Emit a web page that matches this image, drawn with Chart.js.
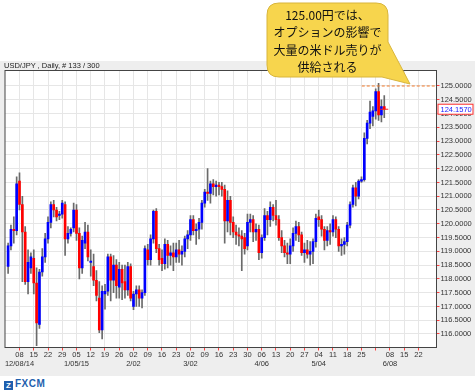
<!DOCTYPE html>
<html>
<head>
<meta charset="utf-8">
<script src="https://cdn.jsdelivr.net/npm/chart.js@4.4.0/dist/chart.umd.min.js"></script>
<style>
html,body{margin:0;padding:0;background:#fff;}
#wrap{position:relative;width:475px;height:390px;overflow:hidden;font-family:"Liberation Sans",Arial,sans-serif;}
#band{position:absolute;left:0;top:61px;width:475px;height:315px;background:#eeeeee;}
#chartBox{position:absolute;left:0;top:61px;width:475px;height:315px;}
#head{position:absolute;left:4px;top:61px;font-size:7.5px;line-height:9px;color:#222;}
#bubble{position:absolute;left:0;top:0;}
#logo{position:absolute;left:4px;top:378px;font-size:10px;line-height:11px;font-weight:bold;color:#1f5fae;letter-spacing:0.5px;}
#logo span{display:inline-block;width:9px;height:9px;line-height:9px;margin-right:2px;background:#1f5fae;color:#fff;font-size:8px;text-align:center;letter-spacing:0;vertical-align:-1px;}
</style>
</head>
<body>
<div id="wrap">
  <div id="band"></div>
  <div id="chartBox"><canvas id="myChart" width="475" height="315"></canvas></div>
  <div id="head">USD/JPY , Daily, # 133 / 300</div>
  <svg id="bubble" width="475" height="100">
    <path d="M279,3 H376 Q388,3 388,15 V42 L410,84 L382,77 H279 Q267,77 267,65 V15 Q267,3 279,3 Z" fill="#f7d54d" stroke="#d8b53c" stroke-width="1"/>
    <g font-family="'Noto Sans CJK JP'" font-size="12" fill="#111" text-anchor="middle">
      <text x="327.5" y="20">125.00円では、</text>
      <text x="327.5" y="37">オプションの影響で</text>
      <text x="327.5" y="54.5">大量の米ドル売りが</text>
      <text x="327.5" y="71.5">供給される</text>
    </g>
  </svg>
  <div id="logo"><span>Z</span>FXCM</div>
</div>
<script>
// daily candles 12/02/14 .. 6/04/15, one per weekday
var opens = [118.45,119.20,119.80,119.75, 121.55,120.70,119.70,117.90,118.40, 118.75,117.85,116.35,118.25,118.80,
  119.45,120.05,120.70,120.50,120.30, 120.35,120.70,119.45,119.65,119.85, 120.50,119.65,118.40,119.30,119.70,
  118.60,118.45,117.95,117.30,116.15, 117.45,117.55,118.80,117.95,118.50, 117.70,118.35,117.90,117.60,118.45,
  117.00,117.45,117.60,117.30,117.50, 119.05,118.70,119.45,120.45,119.10, 118.75,118.55,119.25,118.85,118.95,
  118.80,119.05,118.90,119.00,119.45, 119.60,120.15,119.75,119.80,120.05, 120.75,121.15,121.10,121.45,121.35,
  121.40,121.35,121.25,120.10,120.85, 120.05,119.70,119.60,119.55,119.50, 119.20,120.05,120.15,119.70,119.80,
  118.95,119.50,120.30,120.15,120.60, 120.30,120.15,119.50,119.20,118.95, 118.90,119.20,119.65,119.90,119.60,
  118.95,119.05,118.90,119.00,119.35, 120.25,120.15,119.80,119.40,119.75, 119.70,120.15,119.80,119.20,119.25,
  119.35,119.95,120.70,121.30,121.00, 121.55,121.60,123.10,123.65,123.90, 124.10,124.80,123.95,124.25];
var highs = [119.30,119.95,120.25,121.70, 121.85,121.00,119.90,119.05,118.95, 119.05,118.40,118.35,119.10,119.65,
  120.25,120.80,120.85,120.60,120.45, 120.85,120.80,119.90,119.85,120.75, 120.70,119.85,119.55,120.05,119.95,
  119.05,118.90,118.30,117.90,117.75, 117.80,118.90,118.90,118.85,118.70, 118.60,118.50,118.50,118.60,118.55,
  117.55,117.75,117.75,117.60,119.20, 119.25,119.60,120.50,120.55,119.25, 119.05,119.45,119.40,119.20,119.30,
  119.30,119.40,119.20,119.55,119.75, 120.30,120.30,120.00,120.20,120.85, 121.25,122.00,121.55,121.60,121.55,
  121.50,121.50,121.40,121.20,121.00, 120.25,119.95,119.85,119.75,119.65, 120.35,120.35,120.30,120.00,119.95,
  119.60,120.55,120.45,120.80,120.70, 120.85,120.30,119.75,119.40,119.30, 119.45,119.85,120.10,120.05,119.70,
  119.30,119.40,119.35,119.45,120.35, 120.50,120.30,119.90,119.90,120.00, 120.30,120.25,119.90,119.45,119.50,
  120.05,120.80,121.40,121.50,121.60, 121.70,123.30,123.75,124.45,124.25, 124.90,125.10,124.50,124.65];
var lows = [118.20,119.05,119.30,119.60, 120.50,117.90,117.80,117.45,118.20, 117.45,115.58,116.20,118.10,118.60,
  119.30,119.85,120.25,120.10,120.15, 120.20,118.85,119.30,119.55,119.70, 119.40,118.00,118.20,119.10,118.65,
  118.10,117.75,117.20,116.05,115.82, 116.90,117.40,117.20,117.50,117.30, 117.30,117.25,117.30,117.40,117.20,
  116.88,117.00,117.00,116.95,117.40, 118.50,118.50,119.30,118.95,118.50, 118.30,118.35,118.40,118.50,118.30,
  118.60,118.60,118.50,118.80,119.10, 119.40,119.60,119.25,119.45,119.80, 120.60,120.85,120.75,121.05,121.00,
  121.05,121.00,119.30,119.70,119.60, 119.50,119.25,119.20,118.30,118.90, 119.05,119.70,119.35,119.40,118.70,
  118.75,119.40,119.60,119.90,120.10, 119.95,119.40,118.95,118.80,118.55, 118.55,119.00,119.40,119.35,118.85,
  118.60,118.75,118.50,118.55,119.15, 119.90,119.55,119.05,119.20,119.25, 119.55,119.50,119.00,118.85,118.90,
  119.20,119.85,120.60,120.65,120.90, 121.50,121.55,122.90,123.45,123.55, 123.80,123.75,123.70,123.85];
var closes = [119.20,119.80,119.75,121.45, 120.70,119.70,117.90,118.60,118.80, 117.85,116.40,118.25,118.80,119.45,
  120.05,120.70,120.50,120.25,120.35, 120.75,119.45,119.65,119.80,120.50, 119.65,118.40,119.40,119.70,118.80,
  118.65,117.95,117.40,116.15,117.55, 117.55,118.80,117.95,118.50,117.75, 118.35,117.85,117.60,118.45,117.30,
  117.45,117.60,117.30,117.50,119.10, 118.70,119.45,120.45,119.10,118.70, 118.55,119.25,118.85,118.95,118.80,
  119.05,118.90,119.00,119.45,119.60, 120.15,119.75,119.80,120.05,120.75, 121.15,121.10,121.45,121.35,121.40,
  121.35,121.25,120.10,120.85,120.05, 119.70,119.60,119.55,119.45,119.10, 120.05,120.15,119.70,119.80,118.95,
  119.50,120.30,120.15,120.60,120.30, 120.15,119.50,119.20,118.95,118.90, 119.20,119.65,119.90,119.60,118.95,
  119.05,118.90,119.00,119.35,120.20, 120.15,119.80,119.40,119.75,119.70, 120.15,119.80,119.20,119.25,119.35,
  119.95,120.70,121.30,121.00,121.55, 121.60,123.10,123.65,124.05,124.10, 124.80,123.95,124.25,124.157];

// weekly ticks (Mondays), day label and month label
var tickIdx = [4,9,14,19,24,29,34,39,44,49,54,59,64,69,74,79,84,89,94,99,104,109,114,119,124,129,134,139,144];
var tickDay = ['08','15','22','29','05','12','19','26','02','09','16','23','02','09','16','23','30',
  '06','13','20','27','04','11','18','25','','08','15','22'];
var tickMonth = ['12/08/14','','','','1/05/15','','','','2/02','','','','3/02','','','','',
  '4/06','','','','5/04','','','','','6/08','',''];
var priceTicks = [116,116.5,117,117.5,118,118.5,119,119.5,120,120.5,121,121.5,122,122.5,123,123.5,124,124.5,125];

// option barrier line
var barrierLevel = 125.0;
var barrierStart = 124.1;

var xMin = -1.09, xMax = 150.33, yMin = 115.51, yMax = 125.5625;
var last = closes.length - 1;

var wickData = [], bodyData = [];
for (var i = 0; i < opens.length; i++) {
  wickData.push({x: i, y: [lows[i], highs[i]]});
  bodyData.push({x: i, y: [opens[i], closes[i]]});
}

Chart.defaults.font.family = '"Liberation Sans", Arial, sans-serif';

var plotFrame = {
  id: 'plotFrame',
  beforeDraw: function(chart) {
    var a = chart.chartArea, c = chart.ctx;
    c.save();
    c.fillStyle = '#ffffff';
    c.fillRect(a.left, a.top, a.right - a.left, a.bottom - a.top);
    c.restore();
  },
  afterDraw: function(chart) {
    var a = chart.chartArea, c = chart.ctx;
    c.save();
    c.strokeStyle = '#444';
    c.lineWidth = 1;
    c.strokeRect(a.left, a.top, a.right - a.left, a.bottom - a.top);
    // current price box on the axis
    var y = chart.scales.y.getPixelForValue(closes[last]);
    c.fillStyle = '#ffffff';
    c.fillRect(a.right + 1, y - 5, 35, 10);
    c.strokeStyle = '#ff3030';
    c.strokeRect(a.right + 1.5, y - 5, 35, 10);
    c.fillStyle = '#2020ff';
    c.font = '7.5px "Liberation Sans", Arial, sans-serif';
    c.textBaseline = 'middle';
    c.fillText(closes[last].toFixed(4), a.right + 4, y + 0.5);
    c.restore();
  }
};

var myChart = new Chart(document.getElementById('myChart'), {
  type: 'bar',
  data: {
    datasets: [
      {
        label: 'wick', data: wickData, order: 3, grouped: false,
        barThickness: 1, backgroundColor: '#6a6a6a', borderWidth: 0
      },
      {
        label: 'body', data: bodyData, order: 2, grouped: false,
        barThickness: 2, minBarLength: 1, borderWidth: 0,
        backgroundColor: function(ctx) {
          var k = ctx.dataIndex;
          return closes[k] >= opens[k] ? '#0000ff' : '#ff0000';
        }
      },
      {
        type: 'line', label: 'last', order: 1,
        data: [{x: last, y: closes[last]}],
        showLine: false, pointStyle: 'line', pointRadius: 4,
        borderColor: '#ff2020', borderWidth: 1
      },
      {
        type: 'line', label: 'barrier', order: 0,
        data: [{x: barrierStart, y: barrierLevel}, {x: xMax, y: barrierLevel}],
        borderColor: '#f07828', borderWidth: 1, borderDash: [3, 2],
        pointRadius: 0, fill: false
      }
    ]
  },
  options: {
    responsive: false,
    devicePixelRatio: 1,
    animation: false,
    events: [],
    layout: {padding: {left: 4.5, top: 9.5, right: 0, bottom: 0}},
    plugins: {legend: {display: false}, tooltip: {enabled: false}},
    scales: {
      x: {
        type: 'linear', min: xMin, max: xMax, offset: false,
        afterBuildTicks: function(s) { s.ticks = tickIdx.map(function(v) { return {value: v}; }); },
        afterFit: function(s) { s.height = 28.5; },
        grid: {color: '#e6e6e6', offset: false, tickColor: '#ff4040', tickLength: 3},
        border: {color: '#444'},
        ticks: {
          autoSkip: false, maxRotation: 0, minRotation: 0, padding: 0,
          color: '#333', font: {size: 7.5},
          callback: function(v, k) {
            return tickMonth[k] ? [tickDay[k], tickMonth[k]] : tickDay[k];
          }
        }
      },
      y: {
        position: 'right', min: yMin, max: yMax,
        afterBuildTicks: function(s) { s.ticks = priceTicks.map(function(v) { return {value: v}; }); },
        afterFit: function(s) { s.width = 38.5; },
        grid: {color: '#e6e6e6', tickColor: '#ff4040', tickLength: 3},
        border: {color: '#444'},
        ticks: {
          padding: 1, color: '#333', font: {size: 7.5},
          callback: function(v) { return v.toFixed(4); }
        }
      }
    }
  },
  plugins: [plotFrame]
});
</script>
</body>
</html>
